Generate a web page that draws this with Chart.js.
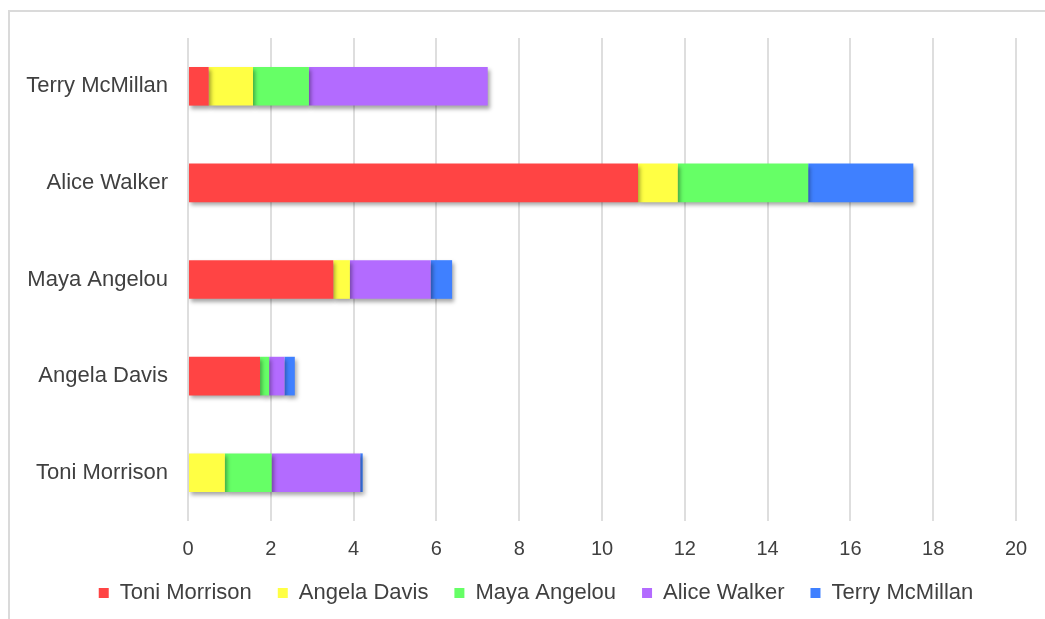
<!DOCTYPE html>
<html>
<head>
<meta charset="utf-8">
<script src="https://cdn.jsdelivr.net/npm/chart.js@4.4.1/dist/chart.umd.min.js"></script>
<style>
  html, body { margin: 0; padding: 0; background: #ffffff; }
  #wrap { position: relative; width: 1045px; height: 619px; }
</style>
</head>
<body>
<div id="wrap"><canvas id="chart" width="1045" height="619"></canvas></div>
<script>
// Readers (rows) and how much each author was named by them (stacked segments)
const categories = ['Toni Morrison', 'Angela Davis', 'Maya Angelou', 'Alice Walker', 'Terry McMillan'];
const seriesNames = ['Toni Morrison', 'Angela Davis', 'Maya Angelou', 'Alice Walker', 'Terry McMillan'];
const toniMorrison  = [0,    1.74, 3.51, 10.87, 0.5];
const angelaDavis   = [0.89, 0,    0.4,  0.96,  1.07];
const mayaAngelou   = [1.13, 0.22, 0,    3.15,  1.35];
const aliceWalker   = [2.14, 0.37, 1.95, 0,     4.32];
const terryMcMillan = [0.06, 0.25, 0.52, 2.54,  0];
const xTicks = [0, 2, 4, 6, 8, 10, 12, 14, 16, 18, 20];

const seriesValues = [toniMorrison, angelaDavis, mayaAngelou, aliceWalker, terryMcMillan];
const seriesColors = ['#ff4444', '#ffff44', '#66ff66', '#b36bff', '#3f80ff'];

const FONT = "'Liberation Sans', Arial, sans-serif";
const TEXT = '#404040';

const LEGEND_HEIGHT = 63;
const LEGEND_SHIFT = 28;

// Light frame along the top and left edges
const framePlugin = {
  id: 'frame',
  beforeDraw(chart) {
    const ctx = chart.ctx;
    ctx.save();
    ctx.strokeStyle = '#dadada';
    ctx.lineWidth = 2;
    ctx.beginPath();
    ctx.moveTo(9, chart.height + 5);
    ctx.lineTo(9, 11);
    ctx.lineTo(chart.width + 5, 11);
    ctx.stroke();
    ctx.restore();
  }
};

// Fixed legend band height, and legend nudged to the right
const legendLayoutPlugin = {
  id: 'legendLayout',
  beforeLayout(chart) {
    const legend = chart.legend;
    if (legend && !legend._fixedFit) {
      const fit = legend.fit;
      legend.fit = function () {
        fit.call(this);
        this.height = LEGEND_HEIGHT;
      };
      legend._fixedFit = true;
    }
  },
  afterLayout(chart) {
    const legend = chart.legend;
    if (legend) {
      legend.left += LEGEND_SHIFT;
      legend.right += LEGEND_SHIFT;
    }
  }
};

// Soft drop shadow under the bars
const shadowPlugin = {
  id: 'barShadow',
  beforeDatasetsDraw(chart) {
    const ctx = chart.ctx;
    ctx.save();
    ctx.shadowColor = 'rgba(0,0,0,0.35)';
    ctx.shadowBlur = 4;
    ctx.shadowOffsetX = 2;
    ctx.shadowOffsetY = 3;
  },
  afterDatasetsDraw(chart) {
    chart.ctx.restore();
  }
};

new Chart(document.getElementById('chart'), {
  type: 'bar',
  data: {
    labels: categories,
    datasets: seriesNames.map((name, i) => ({
      label: name,
      data: seriesValues[i],
      backgroundColor: seriesColors[i],
      borderWidth: 0,
      barPercentage: 0.4,
      categoryPercentage: 1.0
    }))
  },
  options: {
    indexAxis: 'y',
    responsive: false,
    animation: false,
    layout: { padding: { left: 0, right: 29, top: 38, bottom: 0 } },
    scales: {
      x: {
        stacked: true,
        min: 0,
        max: 20,
        afterBuildTicks(scale) { scale.ticks = xTicks.map(v => ({ value: v })); },
        afterFit(scale) { scale.height = 35; },
        grid: { color: '#dedede', lineWidth: 2, drawTicks: false },
        border: { display: false },
        ticks: { padding: 16, color: TEXT, font: { family: FONT, size: 20 } }
      },
      y: {
        stacked: true,
        reverse: true,
        afterFit(scale) { scale.width = 188; },
        grid: { display: false, drawTicks: false },
        border: { display: false },
        ticks: { padding: 20, color: TEXT, font: { family: FONT, size: 22 } }
      }
    },
    plugins: {
      legend: {
        position: 'bottom',
        labels: {
          boxWidth: 10,
          boxHeight: 10,
          padding: 26,
          color: TEXT,
          font: { family: FONT, size: 22 }
        }
      },
      tooltip: { enabled: false }
    }
  },
  plugins: [framePlugin, legendLayoutPlugin, shadowPlugin]
});
</script>
</body>
</html>
